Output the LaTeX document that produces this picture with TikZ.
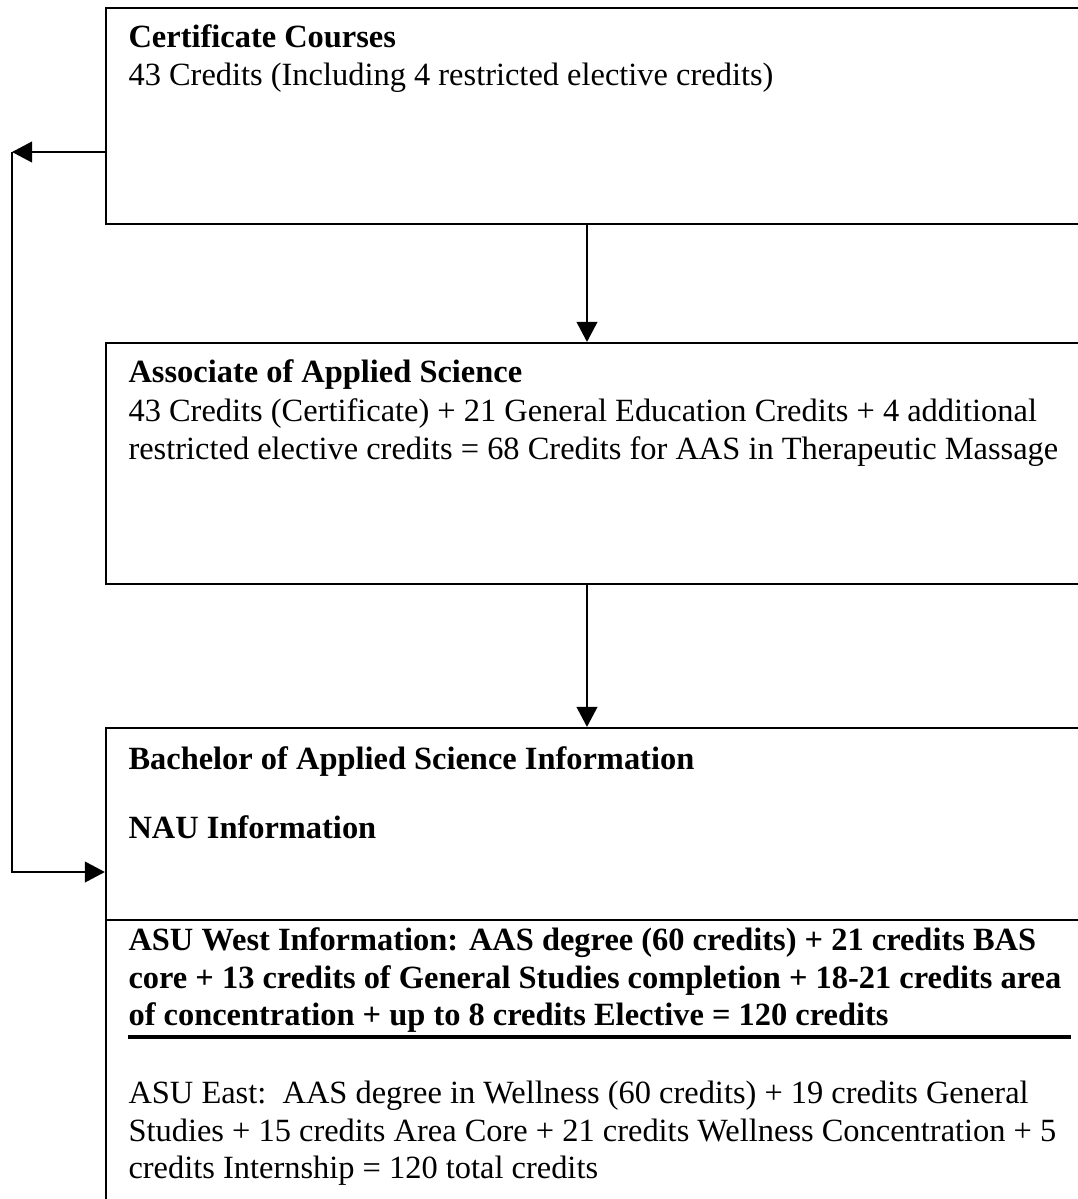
\documentclass[tikz,border=0pt]{standalone}
\usepackage{fontspec}
\setmainfont{Liberation Serif}
\usetikzlibrary{arrows.meta,fit}

\tikzset{
  box/.style={draw=black, line width=0.8pt, inner sep=0pt},
  txt/.style={anchor=base west, inner sep=0pt, font=\fontsize{12}{13.8}\selectfont},
  head/.style={txt, font=\fontsize{12}{13.8}\selectfont\bfseries},
  arr/.style={-{Triangle[length=7.4pt,width=7.6pt]}, line width=0.8pt},
}

\begin{document}
\begin{tikzpicture}[x=0.37pt, y=-0.37pt]
        \useasboundingbox (0,0) rectangle (1078,1199);
        \clip (0,0) rectangle (1078,1199);

        % the three boxes, cut by the right edge
        \node [box, fit={(106,8) (1095,224)}, name=cert] {};
        \node [box, fit={(106,343) (1095,584)}, name=aas] {};
        \node [box, fit={(106,728) (1095,1215)}, name=bas] {};
        \coordinate (mid) at (587,0);
        \coordinate (split) at (0,920);
        \coordinate (turn) at (12,152);
        \coordinate (entry) at (0,872);

        \draw [line width=0.8pt] (bas.west |- split) -- (bas.east |- split);
        \draw [line width=1.5pt] (128,1037) -- (1071,1037);

        % texts
        \node [head, name=certhead] at (128,47) {Certificate Courses};
        \node [txt, name=certl1] at (128,85) {43 Credits (Including 4 restricted elective credits)};

        \node [head, name=aashead] at (128,382) {Associate of Applied Science};
        \node [txt, name=aasl1] at (128,421) {43 Credits (Certificate) + 21 General Education Credits + 4 additional};
        \node [txt, name=aasl2] at (128,459) {restricted elective credits = 68 Credits for AAS in Therapeutic Massage};

        \node [head, name=bashead] at (128,769) {Bachelor of Applied Science Information};
        \node [head, name=nau] at (128,838) {NAU Information};

        \node [head, name=west1] at (128,950) {ASU West Information: AAS degree (60 credits) + 21 credits BAS};
        \node [head, name=west2] at (128,988) {core + 13 credits of General Studies completion + 18-21 credits area};
        \node [head, name=west3] at (128,1025) {of concentration + up to 8 credits Elective = 120 credits};

        \node [txt, name=east1] at (128,1103) {ASU East:\ \ AAS degree in Wellness (60 credits) + 19 credits General};
        \node [txt, name=east2] at (128,1141) {Studies + 15 credits Area Core + 21 credits Wellness Concentration + 5};
        \node [txt, name=east3] at (128,1178) {credits Internship = 120 total credits};

        % arrows
        \draw [arr] (cert.south -| mid) -- (aas.north -| mid);
        \draw [arr] (aas.south -| mid) -- (bas.north -| mid);
        \draw [arr] (cert.west |- turn) -- (turn);
        \draw [arr] (turn) |- (bas.west |- entry);
\end{tikzpicture}
\end{document}
